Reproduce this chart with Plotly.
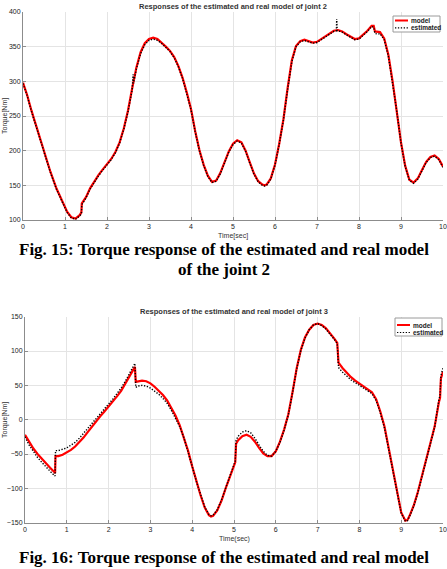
import plotly.graph_objects as go

# ---------------- Joint 2 data ----------------
t2_model = [0, 0.1, 0.2, 0.35, 0.5, 0.65, 0.8, 0.95, 1.05, 1.15, 1.25, 1.35, 1.39, 1.40, 1.5, 1.6, 1.7, 1.8, 1.9,
            2.0, 2.1, 2.2, 2.3, 2.4, 2.5, 2.6, 2.7, 2.8, 2.9, 3.0, 3.1, 3.2, 3.3, 3.4, 3.5, 3.6, 3.7, 3.8, 3.9,
            4.0, 4.1, 4.2, 4.3, 4.4, 4.5, 4.6, 4.7, 4.8, 4.9, 5.0, 5.1, 5.2, 5.3, 5.4, 5.5, 5.6, 5.7, 5.75, 5.8,
            5.9, 6.0, 6.1, 6.2, 6.3, 6.4, 6.5, 6.6, 6.7, 6.8, 6.9, 7.0, 7.1, 7.2, 7.3, 7.4, 7.5, 7.6, 7.7, 7.8,
            7.9, 8.0, 8.1, 8.2, 8.3, 8.35, 8.38, 8.5, 8.6, 8.7, 8.8, 8.9, 9.0, 9.1, 9.2, 9.3, 9.4, 9.5, 9.6, 9.7,
            9.8, 9.9, 10.0]
v2_model = [298, 280, 258, 228, 200, 170, 145, 124, 112, 104, 102, 107, 111, 124, 133, 146, 156, 165, 173,
            180, 188, 198, 212, 232, 258, 290, 320, 342, 355, 361, 363, 361, 356, 350, 344, 335, 322, 305, 284,
            260, 228, 201, 180, 164, 155, 157, 168, 184, 199, 210, 215, 212, 200, 183, 167, 156, 151, 150, 151,
            160, 180, 210, 245, 290, 330, 351, 358, 360, 358, 356, 357, 361, 366, 370, 373, 374, 372, 368, 364,
            361, 362, 367, 373, 380, 380, 372, 371, 362, 338, 300, 258, 212, 178, 158, 154, 160, 172, 184, 191,
            193, 188, 177]

t2_est = [0, 0.1, 0.2, 0.35, 0.5, 0.65, 0.8, 0.95, 1.05, 1.15, 1.25, 1.35, 1.39, 1.40, 1.5, 1.6, 1.7, 1.8, 1.9,
          2.0, 2.1, 2.2, 2.3, 2.4, 2.5, 2.6, 2.61, 2.62, 2.63, 2.7, 2.8, 2.9, 3.0, 3.1, 3.2, 3.3, 3.4, 3.5, 3.6,
          3.7, 3.8, 3.9, 4.0, 4.1, 4.2, 4.3, 4.4, 4.5, 4.6, 4.7, 4.8, 4.9, 5.0, 5.1, 5.2, 5.3, 5.4, 5.5, 5.6,
          5.7, 5.75, 5.8, 5.9, 6.0, 6.1, 6.2, 6.3, 6.4, 6.5, 6.6, 6.7, 6.8, 6.9, 7.0, 7.1, 7.2, 7.3, 7.4, 7.46,
          7.47, 7.48, 7.5, 7.6, 7.7, 7.8, 7.9, 8.0, 8.1, 8.2, 8.3, 8.35, 8.38, 8.45, 8.5, 8.6, 8.7, 8.8, 8.9,
          9.0, 9.1, 9.2, 9.3, 9.4, 9.5, 9.6, 9.7, 9.8, 9.9, 10.0]
v2_est = [297, 279, 257, 227, 199, 169, 144, 123, 111, 103, 101, 106, 109, 122, 132, 145, 155, 164, 172,
          179, 187, 197, 211, 231, 256, 288, 296, 310, 297, 318, 340, 353, 359, 361, 359, 355, 349, 343, 334,
          321, 304, 283, 259, 227, 200, 179, 163, 154, 156, 167, 183, 198, 209, 214, 211, 199, 182, 166, 155,
          150, 149, 150, 159, 179, 209, 244, 288, 328, 350, 357, 359, 357, 355, 356, 360, 365, 369, 372, 373,
          390, 373, 373, 371, 367, 363, 360, 361, 366, 372, 379, 378, 369, 368, 369, 360, 336, 298, 257,
          211, 177, 157, 153, 159, 171, 183, 190, 192, 187, 176]

# ---------------- Joint 3 data ----------------
t3_model = [0, 0.1, 0.2, 0.3, 0.4, 0.5, 0.6, 0.7, 0.72, 0.73, 0.8, 0.9, 1.0, 1.1, 1.2, 1.3, 1.4, 1.5, 1.6, 1.7,
            1.8, 1.9, 2.0, 2.1, 2.2, 2.3, 2.4, 2.5, 2.6, 2.63, 2.65, 2.7, 2.8, 2.9, 3.0, 3.1, 3.2, 3.3, 3.4, 3.5,
            3.6, 3.7, 3.8, 3.9, 4.0, 4.1, 4.2, 4.3, 4.4, 4.45, 4.5, 4.6, 4.7, 4.8, 4.9, 5.0, 5.03, 5.05, 5.1,
            5.2, 5.3, 5.4, 5.5, 5.6, 5.7, 5.8, 5.9, 6.0, 6.1, 6.2, 6.3, 6.4, 6.5, 6.6, 6.7, 6.8, 6.9, 7.0, 7.1,
            7.2, 7.3, 7.4, 7.47, 7.5, 7.6, 7.7, 7.8, 7.9, 8.0, 8.1, 8.2, 8.3, 8.4, 8.5, 8.6, 8.7, 8.8, 8.9, 9.0,
            9.1, 9.15, 9.2, 9.3, 9.4, 9.5, 9.6, 9.7, 9.8, 9.9, 9.93, 9.95, 10.0]
v3_model = [-22, -33, -42, -50, -57, -64, -70, -76, -78, -53, -53, -51, -48, -44, -39, -33, -26, -18, -10, -2,
            5, 12, 19, 26, 34, 42, 52, 63, 74, 77, 55, 56, 57, 56, 53, 48, 42, 36, 28, 18,
            6, -8, -25, -45, -68, -90, -110, -128, -139, -141, -140, -132, -118, -100, -82, -66, -62, -35, -30,
            -24, -22, -25, -32, -41, -49, -53, -53, -46, -32, -14, 8, 40, 75, 102, 120, 131, 138, 140, 138,
            133, 126, 118, 112, 83, 75, 68, 62, 57, 53, 49, 45, 40, 30, 12, -10, -40, -72, -105, -135,
            -147, -146, -140, -125, -105, -82, -58, -35, -10, 25, 32, 60, 70]

t3_est = [0, 0.1, 0.2, 0.3, 0.4, 0.5, 0.6, 0.7, 0.72, 0.73, 0.8, 0.9, 1.0, 1.1, 1.2, 1.3, 1.4, 1.5, 1.6, 1.7,
          1.8, 1.9, 2.0, 2.1, 2.2, 2.3, 2.4, 2.5, 2.6, 2.63, 2.65, 2.7, 2.8, 2.9, 3.0, 3.1, 3.2, 3.3, 3.4, 3.5,
          3.6, 3.7, 3.8, 3.9, 4.0, 4.1, 4.2, 4.3, 4.4, 4.45, 4.5, 4.6, 4.7, 4.8, 4.9, 5.0, 5.03, 5.05, 5.1,
          5.2, 5.3, 5.4, 5.5, 5.6, 5.7, 5.8, 5.9, 6.0, 6.1, 6.2, 6.3, 6.4, 6.5, 6.6, 6.7, 6.8, 6.9, 7.0, 7.1,
          7.2, 7.3, 7.4, 7.47, 7.5, 7.6, 7.7, 7.8, 7.9, 8.0, 8.1, 8.2, 8.3, 8.4, 8.5, 8.6, 8.7, 8.8, 8.9, 9.0,
          9.1, 9.15, 9.2, 9.3, 9.4, 9.5, 9.6, 9.7, 9.8, 9.9, 9.93, 9.95, 10.0]
v3_est = [-25, -37, -46, -55, -62, -69, -75, -81, -82, -45, -45, -43, -41, -37, -33, -27, -20, -13, -5, 2,
          9, 16, 23, 30, 38, 46, 56, 67, 78, 82, 47, 49, 50, 49, 46, 42, 37, 31, 24, 14,
          3, -10, -26, -46, -68, -90, -110, -127, -138, -140, -139, -131, -117, -99, -81, -64, -60, -30, -24,
          -18, -16, -19, -27, -37, -46, -52, -53, -46, -33, -15, 7, 39, 74, 101, 119, 131, 138, 140, 137,
          132, 125, 117, 111, 76, 69, 63, 58, 54, 50, 46, 42, 38, 28, 10, -12, -42, -74, -106, -136,
          -148, -147, -141, -126, -106, -83, -59, -36, -11, 28, 36, 64, 75]

x_ticks = [0, 1, 2, 3, 4, 5, 6, 7, 8, 9, 10]
y2_ticks = [100, 150, 200, 250, 300, 350, 400]
y3_ticks = [-150, -100, -50, 0, 50, 100, 150]
series_names = ["model", "estimated"]

W, H = 447, 569
RED = "#ff0000"
FONT = "Liberation Sans"
DOT = "1.3px,1.6px"

fig = go.Figure()
fig.add_trace(go.Scatter(x=t2_model, y=v2_model, mode="lines", name=series_names[0], showlegend=False,
                         line=dict(color=RED, width=2.2), xaxis="x", yaxis="y"))
fig.add_trace(go.Scatter(x=t2_est, y=v2_est, mode="lines", name=series_names[1], showlegend=False,
                         line=dict(color="black", width=1.4, dash=DOT), xaxis="x", yaxis="y"))
fig.add_trace(go.Scatter(x=t3_model, y=v3_model, mode="lines", name=series_names[0], showlegend=False,
                         line=dict(color=RED, width=2.2), xaxis="x2", yaxis="y2"))
fig.add_trace(go.Scatter(x=t3_est, y=v3_est, mode="lines", name=series_names[1], showlegend=False,
                         line=dict(color="black", width=1.4, dash=DOT), xaxis="x2", yaxis="y2"))

def px_x(p):
    return p / W

def px_y(p):
    return 1 - p / H

axis_common = dict(showgrid=True, gridcolor="#e4e4e4", gridwidth=1, zeroline=False,
                   showline=True, linecolor="#8c8c8c", linewidth=1, automargin=False,
                   ticks="inside", ticklen=3, tickcolor="#8c8c8c",
                   tickfont=dict(family=FONT, size=7, color="#222222"))

shapes = []
annotations = []

def add_legend(left, top, right, bottom, y_rows):
    shapes.append(dict(type="rect", xref="paper", yref="paper",
                       x0=px_x(left), x1=px_x(right), y0=px_y(bottom), y1=px_y(top),
                       line=dict(color="#9a9a9a", width=1), fillcolor="white", layer="above"))
    styles = [dict(color=RED, width=2), dict(color="black", width=1.2, dash=DOT)]
    for name, yr, st in zip(series_names, y_rows, styles):
        shapes.append(dict(type="line", xref="paper", yref="paper",
                           x0=px_x(left + 2), x1=px_x(left + 15), y0=px_y(yr), y1=px_y(yr),
                           line=st, layer="above"))
        annotations.append(dict(text="<b>" + name + "</b>", x=px_x(left + 16), y=px_y(yr),
                                xref="paper", yref="paper", xanchor="left", yanchor="middle",
                                showarrow=False, font=dict(family=FONT, size=6.5, color="#222222")))

add_legend(393, 16, 440, 32, [20.5, 27.8])
add_legend(395, 318, 442, 336, [325, 332.5])

def text(s, x, y, size, family=FONT, color="#333333", angle=0):
    annotations.append(dict(text=s, x=px_x(x), y=px_y(y), xref="paper", yref="paper",
                            xanchor="center", yanchor="middle",
                            showarrow=False, textangle=angle,
                            font=dict(family=family, size=size, color=color)))

text("<b>Responses of the estimated and real model of joint 2</b>", 233, 6, 7.5)
text("<b>Responses of the estimated and real model of joint 3</b>", 234, 311, 7.5)
text("Time[sec]", 233, 236, 7)
text("Time(sec)", 234, 539, 7)
text("Torque[Nm]", 5, 116, 7, angle=-90)
text("Torque[Nm]", 5, 420, 7, angle=-90)
text("<b>Fig. 15: Torque response of the estimated and real model</b>", 223.5, 250, 17,
     family="Liberation Serif", color="black")
text("<b>of the joint 2</b>", 223.5, 269, 17, family="Liberation Serif", color="black")
text("<b>Fig. 16: Torque response of the estimated and real model</b>", 223.5, 557.5, 17,
     family="Liberation Serif", color="black")

fig.update_layout(
    width=W, height=H, margin=dict(l=0, r=0, t=0, b=0, autoexpand=False),
    paper_bgcolor="white", plot_bgcolor="white", showlegend=False,
    xaxis=dict(domain=[px_x(23), px_x(443)], range=[0, 10], tickvals=x_ticks, anchor="y", **axis_common),
    yaxis=dict(domain=[px_y(220), px_y(12)], range=[100, 400], tickvals=y2_ticks, anchor="x", **axis_common),
    xaxis2=dict(domain=[px_x(25), px_x(443)], range=[0, 10], tickvals=x_ticks, anchor="y2", **axis_common),
    yaxis2=dict(domain=[px_y(522.7), px_y(316.7)], range=[-150, 150], tickvals=y3_ticks, anchor="x2",
                **axis_common),
    shapes=shapes,
    annotations=annotations,
)

fig.write_html("out.html")
